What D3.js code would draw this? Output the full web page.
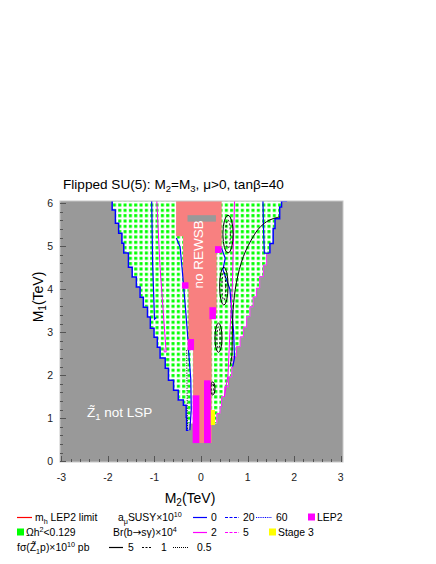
<!DOCTYPE html>
<html><head><meta charset="utf-8">
<script src="https://cdn.jsdelivr.net/npm/d3@7"></script>
<style>body{margin:0;background:#fff} text{font-family:"Liberation Sans",Arial,Helvetica,sans-serif}</style>
</head><body><svg id="c" width="436" height="564"></svg>
<script>
// ---------- data (TeV) ----------
const xTicks=[-3,-2,-1,0,1,2,3];
const yTicks=[0,1,2,3,4,5,6];
const leftEdge=[[-1.91,6.05],[-1.84,5.84],[-1.77,5.53],[-1.70,5.30],[-1.66,5.07],[-1.56,4.84],[-1.48,4.51],[-1.39,4.28],[-1.31,4.05],[-1.24,3.81],[-1.15,3.58],[-1.09,3.35],[-1.01,3.09],[-0.94,2.88],[-0.88,2.65],[-0.77,2.40],[-0.70,2.16],[-0.59,1.88],[-0.49,1.65],[-0.38,1.42],[-0.32,1.30],[-0.31,1.02],[-0.27,0.72]];
const rightEdge=[[1.85,6.05],[1.73,5.91],[1.69,5.64],[1.59,5.41],[1.55,5.06],[1.48,4.83],[1.41,4.56],[1.34,4.29],[1.26,4.02],[1.19,3.82],[1.12,3.59],[1.05,3.36],[0.98,3.12],[0.91,2.89],[0.84,2.66],[0.76,2.43],[0.69,2.19],[0.66,1.96],[0.59,1.73],[0.51,1.50],[0.44,1.26],[0.41,1.11],[0.34,0.88]];
const noRewsb=[[-0.536,6.05],[0.444,6.05],[0.444,4.91],[0.336,4.91],[0.336,3.44],[0.229,3.44],[0.229,0.42],[-0.171,0.42],[-0.171,2.70],[-0.272,2.70],[-0.272,4.02],[-0.386,4.02],[-0.386,5.23],[-0.536,5.23]];
const grayBox=[-0.29,0.32,5.57,5.72];
const lep2Boxes=[[-0.41,-0.27,4.01,4.16],[0.30,0.44,4.84,5.00],[0.18,0.32,3.30,3.58],[-0.29,-0.15,2.58,2.84],[-0.18,-0.036,0.42,1.53],[0.064,0.21,0.42,1.88]];
const stage3Boxes=[[0.21,0.30,0.84,1.19]];
const amuZeroLines=[
  [[-1.06,6.05],[-1.04,4.6],[-1.0,3.3],[-0.96,3.34]],
  [[-0.53,5.19],[-0.45,4.98],[-0.40,4.40],[-0.33,3.50],[-0.28,2.81]],
  [[-0.27,2.60],[-0.22,1.90],[-0.21,1.20],[-0.24,0.72]],
  [[1.33,6.05],[1.34,5.5],[1.36,4.84],[1.47,4.84]],
  [[0.44,4.95],[0.52,4.72],[0.47,4.45],[0.62,4.0],[0.70,3.0],[0.72,2.4],[0.68,2.2]]
];
const bsg2Lines=[
  [[-0.95,6.05],[-0.88,4.5],[-0.75,2.54],[-0.79,2.54],[-0.80,2.62]],
  [[0.72,6.05],[0.67,4.0],[0.62,3.0],[0.58,2.0],[0.50,1.5]]
];
const sigma5Line=[[1.69,5.68],[1.55,5.64],[1.41,5.57],[1.25,5.42],[1.12,5.22],[0.91,4.76],[0.76,4.15],[0.69,3.53],[0.67,2.81],[0.66,2.43],[0.62,2.2]];
const sigma5Loops=[[0.58,5.28,0.11,0.44],[0.49,4.07,0.09,0.44],[0.375,2.87,0.075,0.34],[0.25,1.69,0.05,0.15]];
const sigma05Line=[[-0.31,2.58],[-0.30,1.60],[-0.29,0.72]];

// ---------- setup ----------
const svg=d3.select('#c');
const x=d3.scaleLinear().domain([-3.03,3.05]).range([60,343]);
const y=d3.scaleLinear().domain([-0.02,6.05]).range([462,201]);
const defs=svg.append('defs');
defs.append('clipPath').attr('id','clip').append('rect')
  .attr('x',x(-3.03)).attr('y',y(6.05)).attr('width',x(3.05)-x(-3.03)).attr('height',y(-0.02)-y(6.05));
const pat=defs.append('pattern').attr('id','dots').attr('patternUnits','userSpaceOnUse').attr('width',5.33).attr('height',5.33);
pat.append('rect').attr('width',5.33).attr('height',5.33).attr('fill','#fff');
pat.append('rect').attr('x',1).attr('y',1).attr('width',3).attr('height',3).attr('fill','#00ff00');

const g=svg.append('g').attr('clip-path','url(#clip)');
g.append('rect').attr('x',x(-3.03)).attr('y',y(6.05)).attr('width',x(3.05)-x(-3.03)).attr('height',y(-0.02)-y(6.05)).attr('fill','#999999');

const stepLine=d3.line().x(d=>x(d[0])).y(d=>y(d[1])).curve(d3.curveStepBefore);
const linLine=d3.line().x(d=>x(d[0])).y(d=>y(d[1]));
const smooth=d3.line().x(d=>x(d[0])).y(d=>y(d[1])).curve(d3.curveCatmullRom.alpha(0.5));

const allowed=leftEdge.concat(rightEdge.slice().reverse());
g.append('path').attr('d',stepLine(allowed)+'Z').attr('fill','url(#dots)').attr('stroke','#d0d0d0').attr('stroke-width',1);

// no REWSB region
g.append('path').attr('d',linLine(noRewsb)+'Z').attr('fill','#f88080');
g.append('rect').attr('x',x(grayBox[0])).attr('y',y(grayBox[3])).attr('width',x(grayBox[1])-x(grayBox[0])).attr('height',y(grayBox[2])-y(grayBox[3])).attr('fill','#999999');

// contours
g.append('path').attr('d',stepLine(leftEdge)).attr('fill','none').attr('stroke','#0000ff').attr('stroke-width',1.5);
g.append('path').attr('d',stepLine(rightEdge.slice(0,6).reverse())).attr('fill','none').attr('stroke','#0000ff').attr('stroke-width',1.5);
g.append('path').attr('d',stepLine(rightEdge.slice(5).reverse())).attr('fill','none').attr('stroke','#ff00ff').attr('stroke-width',0.8);
amuZeroLines.forEach(l=>g.append('path').attr('d',linLine(l)).attr('fill','none').attr('stroke','#0000ff').attr('stroke-width',1.2));
bsg2Lines.forEach(l=>g.append('path').attr('d',linLine(l)).attr('fill','none').attr('stroke','#ff00ff').attr('stroke-width',1));
g.append('path').attr('d',smooth(sigma5Line)).attr('fill','none').attr('stroke','#000').attr('stroke-width',1);
sigma5Loops.forEach(e=>{
  g.append('ellipse').attr('cx',x(e[0])).attr('cy',y(e[1])).attr('rx',x(e[0]+e[2])-x(e[0])).attr('ry',y(e[1])-y(e[1]+e[3]))
   .attr('fill','none').attr('stroke','#000').attr('stroke-width',1);
  g.append('ellipse').attr('cx',x(e[0])).attr('cy',y(e[1])).attr('rx',(x(e[0]+e[2])-x(e[0]))*0.45).attr('ry',(y(e[1])-y(e[1]+e[3]))*0.75)
   .attr('fill','none').attr('stroke','#000').attr('stroke-width',1).attr('stroke-dasharray','2,2');
});
g.append('path').attr('d',linLine(sigma05Line)).attr('fill','none').attr('stroke','#000').attr('stroke-width',1).attr('stroke-dasharray','1,1.5');

// boxes
lep2Boxes.forEach(b=>g.append('rect').attr('x',x(b[0])).attr('y',y(b[3])).attr('width',x(b[1])-x(b[0])).attr('height',y(b[2])-y(b[3])).attr('fill','#ff00ff'));
stage3Boxes.forEach(b=>g.append('rect').attr('x',x(b[0])).attr('y',y(b[3])).attr('width',x(b[1])-x(b[0])).attr('height',y(b[2])-y(b[3])).attr('fill','#ffff00'));

// in-plot labels
svg.append('text').attr('transform',`translate(${x(0.04)},${y(4.81)}) rotate(-90)`).attr('text-anchor','middle')
  .attr('font-size',13.5).attr('fill','#fff').text('no REWSB');
const zl=svg.append('text').attr('x',x(-2.45)).attr('y',y(1.02)).attr('font-size',13.5).attr('fill','#fff');
zl.append('tspan').text('Z\u0303');
zl.append('tspan').attr('font-size',9.5).attr('dy',3).text('1');
zl.append('tspan').attr('dy',-3).text(' not LSP');

// frame and ticks
svg.append('rect').attr('x',x(-3.03)).attr('y',y(6.05)).attr('width',x(3.05)-x(-3.03)).attr('height',y(-0.02)-y(6.05))
  .attr('fill','none').attr('stroke','#c8c8c8').attr('stroke-width',1);
const minorX=d3.range(-30,31,2).map(d=>d/10), minorY=d3.range(0,61,2).map(d=>d/10);
const tk=svg.append('g').attr('stroke','#555').attr('stroke-width',1);
minorX.forEach(v=>{const maj=Math.abs(v-Math.round(v))<1e-6;
  tk.append('line').attr('x1',Math.round(x(v))+0.5).attr('x2',Math.round(x(v))+0.5).attr('y1',y(-0.02)).attr('y2',y(-0.02)-(maj?6:3));});
minorY.forEach(v=>{const maj=Math.abs(v-Math.round(v))<1e-6;
  tk.append('line').attr('y1',Math.round(y(v))+0.5).attr('y2',Math.round(y(v))+0.5).attr('x1',x(-3.03)).attr('x2',x(-3.03)+(maj?6:3));});
svg.append('g').selectAll('text').data(xTicks).join('text').attr('x',d=>x(d)).attr('y',481).attr('text-anchor','middle')
  .attr('font-size',10.5).attr('fill','#222').text(d=>d);
svg.append('g').selectAll('text').data(yTicks).join('text').attr('x',53).attr('y',d=>y(d)+4).attr('text-anchor','end')
  .attr('font-size',10.5).attr('fill','#222').text(d=>d);

// title
const tt=svg.append('text').attr('x',63).attr('y',189).attr('font-size',13.6).attr('fill','#000');
tt.append('tspan').text('Flipped SU(5): M');
tt.append('tspan').attr('font-size',9.5).attr('dy',3).text('2');
tt.append('tspan').attr('dy',-3).text('=M');
tt.append('tspan').attr('font-size',9.5).attr('dy',3).text('3');
tt.append('tspan').attr('dy',-3).text(', \u03bc>0, tan\u03b2=40');

// axis labels
const xl=svg.append('text').attr('x',190).attr('y',503).attr('text-anchor','middle').attr('font-size',14);
xl.append('tspan').text('M');xl.append('tspan').attr('font-size',10).attr('dy',3).text('2');xl.append('tspan').attr('dy',-3).text('(TeV)');
const yl=svg.append('text').attr('transform','translate(43,297) rotate(-90)').attr('text-anchor','middle').attr('font-size',14);
yl.append('tspan').text('M');yl.append('tspan').attr('font-size',10).attr('dy',3).text('1');yl.append('tspan').attr('dy',-3).text('(TeV)');

// legend
const L=svg.append('g').attr('font-size',10.4).attr('fill','#000');
const r1=521,r2=536,r3=551;
function seg(x1,x2,yy,col,dash){L.append('line').attr('x1',x1).attr('x2',x2).attr('y1',yy-3.5).attr('y2',yy-3.5).attr('stroke',col).attr('stroke-width',1.2).attr('stroke-dasharray',dash||null);}
function sq(x0,yy,col){L.append('rect').attr('x',x0).attr('y',yy-7.5).attr('width',7).attr('height',7).attr('fill',col);}
function txt(x0,yy,parts){const t=L.append('text').attr('x',x0).attr('y',yy);
  parts.forEach(p=>{const s=t.append('tspan').text(p[0]);
    if(p[1]==='sub'){s.attr('font-size',7.2).attr('dy',2.5);} else if(p[1]==='sup'){s.attr('font-size',7.2).attr('dy',-4);}
    else if(p[1]==='b1'){s.attr('dy',-2.5);} else if(p[1]==='b2'){s.attr('dy',4);}
    if(p[2]) s.attr('font-family',p[2]); });}
seg(17,32,r1,'#ff0000'); txt(35,r1,[['m'],['h','sub'],[' LEP2 limit','b1']]);
txt(118,r1,[['a'],['\u03bc','sub'],['SUSY\u00d710','b1'],['10','sup']]);
seg(193,207,r1,'#0000ff'); txt(211,r1,[['0']]);
seg(225,239,r1,'#0000ff','3,1.5'); txt(243,r1,[['20']]);
seg(256,272,r1,'#0000ff','1,0.8'); txt(276,r1,[['60']]);
sq(308,r1,'#ff00ff'); txt(317,r1,[['LEP2']]);
sq(17,r2,'#00ff00'); txt(26,r2,[['\u03a9h'],['2','sup'],['<0.129','b2']]);
txt(113,r2,[['Br(b'],['\u2192','', 'DejaVu Sans'],['s\u03b3)\u00d710'],['4','sup']]);
seg(193,207,r2,'#ff00ff'); txt(211,r2,[['2']]);
seg(225,239,r2,'#ff00ff','3,1.5'); txt(243,r2,[['5']]);
sq(269,r2,'#ffff00'); txt(278,r2,[['Stage 3']]);
txt(17,r3,[['f\u03c3(Z\u0303'],['1','sub'],['p)\u00d710','b1'],['10','sup'],[' pb','b2']]);
seg(109,123,r3,'#000'); txt(128,r3,[['5']]);
seg(142,152,r3,'#000','2,1.5'); txt(161,r3,[['1']]);
seg(173,188,r3,'#000','1,1'); txt(197,r3,[['0.5']]);
</script>
</body></html>
